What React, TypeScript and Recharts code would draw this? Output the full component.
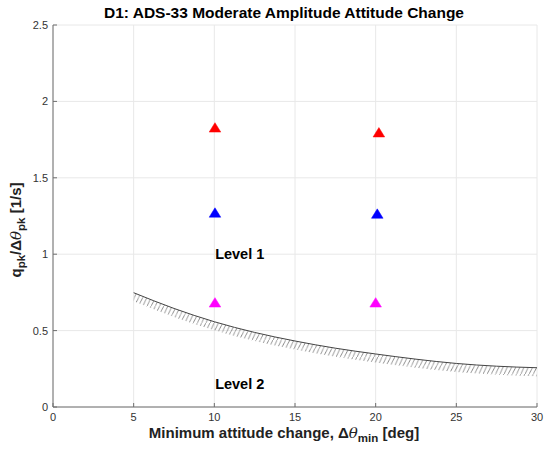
import React from "react";
import {
  ComposedChart,
  XAxis,
  YAxis,
  CartesianGrid,
  Scatter,
  Line,
  Area,
  Customized,
} from "recharts";

const xTicks = [0, 5, 10, 15, 20, 25, 30];
const yTicks = [0, 0.5, 1, 1.5, 2, 2.5];

const boundaryX = [5, 7.5, 10, 12.5, 15, 17.5, 20, 22.5, 25, 27.5, 30];
const boundaryY = [0.748, 0.645, 0.558, 0.488, 0.432, 0.385, 0.347, 0.313, 0.285, 0.267, 0.257];
const hatchDepth = 0.056;

const redPoints = [
  { x: 10.04, y: 1.83 },
  { x: 20.2, y: 1.798 },
];
const bluePoints = [
  { x: 10.04, y: 1.273 },
  { x: 20.1, y: 1.266 },
];
const magentaPoints = [
  { x: 10.04, y: 0.685 },
  { x: 20.0, y: 0.685 },
];
const levelLabels = [
  { x: 10.05, y: 1.0, label: "Level 1" },
  { x: 10.05, y: 0.15, label: "Level 2" },
];

const boundaryData = boundaryX.map((x, i) => ({
  x,
  y: boundaryY[i],
  band: [boundaryY[i] - hatchDepth, boundaryY[i]],
}));

const FONT = "'Liberation Sans', Arial, Helvetica, sans-serif";
const AXIS = "#6e6e6e";
const TICKTXT = "#333333";

const XTick = (props: any) => {
  const { x, y, payload } = props;
  return (
    <g>
      <line x1={x} y1={y} x2={x} y2={y - 4} stroke={AXIS} strokeWidth={1} />
      <text x={x} y={y + 13.5} textAnchor="middle" fontSize={11} fill={TICKTXT} fontFamily={FONT}>
        {payload.value}
      </text>
    </g>
  );
};

const YTick = (props: any) => {
  const { x, y, payload } = props;
  return (
    <g>
      <line x1={x} y1={y} x2={x + 4} y2={y} stroke={AXIS} strokeWidth={1} />
      <text x={x - 5} y={y + 4} textAnchor="end" fontSize={11} fill={TICKTXT} fontFamily={FONT}>
        {payload.value}
      </text>
    </g>
  );
};

const makeTriangle = (color: string) => (props: any) => {
  const { cx, cy } = props;
  const w = 5.8;
  const h = 4.7;
  return (
    <polygon
      points={`${cx},${cy - h} ${cx + w},${cy + h} ${cx - w},${cy + h}`}
      fill={color}
      stroke={color}
      strokeWidth={0.5}
    />
  );
};

const LabelShape = (props: any) => {
  const { cx, cy, payload } = props;
  return (
    <text x={cx} y={cy + 5} fontSize={14.5} fontWeight="bold" fill="#000" fontFamily={FONT}>
      {payload.label}
    </text>
  );
};

const Decorations = () => (
  <g fontFamily={FONT}>
    <defs>
      <pattern id="hatch" patternUnits="userSpaceOnUse" width={4.2} height={8.5}>
        <line x1={0} y1={8.5} x2={4.2} y2={0} stroke="#555" strokeWidth={0.65} />
      </pattern>
    </defs>
    <text x={284} y={18} textAnchor="middle" fontSize={15.5} fontWeight="bold" fill="#000">
      D1: ADS-33 Moderate Amplitude Attitude Change
    </text>
    <text x={284} y={437.5} textAnchor="middle" fontSize={15} fontWeight="bold" fill="#222">
      Minimum attitude change, Δ
      <tspan fontStyle="italic" fontWeight="normal" fontFamily="'DejaVu Serif', serif">θ</tspan>
      <tspan fontSize={11.5} dy={4}>min</tspan>
      <tspan dy={-4}> [deg]</tspan>
    </text>
    <text
      x={21}
      y={230}
      textAnchor="middle"
      fontSize={15}
      fontWeight="bold"
      fill="#222"
      transform="rotate(-90 21 230)"
    >
      q<tspan fontSize={11.5} dy={4}>pk</tspan>
      <tspan dy={-4}>/Δ</tspan>
      <tspan fontStyle="italic" fontWeight="normal" fontFamily="'DejaVu Serif', serif">θ</tspan>
      <tspan fontSize={11.5} dy={4}>pk</tspan>
      <tspan dy={-4}> [1/s]</tspan>
    </text>
  </g>
);

export default function App() {
  return (
    <div style={{ position: "absolute", left: 0, top: 0, width: 544, height: 452, background: "#fff" }}>
      <ComposedChart
        width={544}
        height={452}
        margin={{ top: 25, right: 7, left: 0, bottom: 15 }}
      >
        <Customized component={Decorations} />
        <CartesianGrid stroke="#e8e8e8" strokeWidth={1} />
        <XAxis
          type="number"
          dataKey="x"
          domain={[0, 30]}
          ticks={xTicks}
          interval={0}
          height={30}
          tickSize={0}
          tickMargin={0}
          tickLine={false}
          axisLine={{ stroke: AXIS, strokeWidth: 1 }}
          tick={<XTick />}
          allowDataOverflow
        />
        <YAxis
          type="number"
          dataKey="y"
          domain={[0, 2.5]}
          ticks={yTicks}
          interval={0}
          width={53}
          tickSize={0}
          tickMargin={0}
          tickLine={false}
          axisLine={{ stroke: AXIS, strokeWidth: 1 }}
          tick={<YTick />}
          allowDataOverflow
        />
        <Area
          data={boundaryData}
          dataKey="band"
          type="monotone"
          stroke="none"
          fill="url(#hatch)"
          fillOpacity={1}
          isAnimationActive={false}
          activeDot={false}
          dot={false}
        />
        <Line
          data={boundaryData}
          dataKey="y"
          type="monotone"
          stroke="#444"
          strokeWidth={1}
          dot={false}
          activeDot={false}
          isAnimationActive={false}
        />
        <Scatter data={redPoints} dataKey="y" shape={makeTriangle("#ff0000")} isAnimationActive={false} />
        <Scatter data={bluePoints} dataKey="y" shape={makeTriangle("#0000ff")} isAnimationActive={false} />
        <Scatter data={magentaPoints} dataKey="y" shape={makeTriangle("#ff00ff")} isAnimationActive={false} />
        <Scatter data={levelLabels} dataKey="y" shape={LabelShape} isAnimationActive={false} />
      </ComposedChart>
    </div>
  );
}
